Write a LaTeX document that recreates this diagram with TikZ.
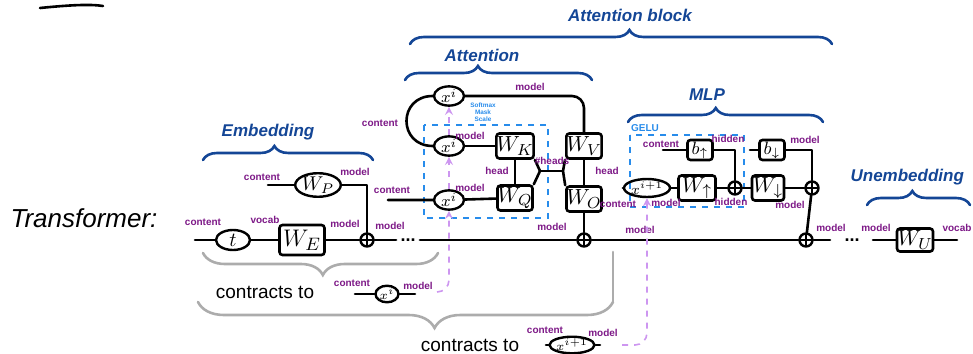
\documentclass[tikz,border=0pt]{standalone}
\usepackage{fontspec}
\setmainfont{Liberation Sans}
\usetikzlibrary{positioning, arrows, shapes.geometric, decorations.pathreplacing}
\definecolor{lblpurple}{RGB}{125,25,135}
\definecolor{ttlblue}{RGB}{20,70,150}
\definecolor{dashblue}{RGB}{40,140,235}
\definecolor{xpink}{RGB}{205,150,240}
\tikzset{
    x=0.5pt, y=-0.5pt, % one unit is one pixel of the sketch, y grows downwards
    >=stealth,
    wire/.style={line width=1.3pt, line cap=round, line join=round}, % the black lines between the blocks
    mat/.style={draw, line width=1.3pt, rounded corners=1.5pt, inner sep=0pt, minimum width=17.5pt, minimum height=12.5pt, font=\fontsize{11}{11}\selectfont}, % weight matrices
    bias/.style={mat, minimum width=12.5pt, minimum height=10pt, font=\fontsize{9}{9}\selectfont},
    vec/.style={draw, ellipse, line width=1.2pt, inner sep=0pt, minimum width=15pt, minimum height=9pt, font=\fontsize{8}{8}\selectfont}, % vectors like x^i
    addop/.style={draw, circle, line width=1.2pt, inner sep=0pt, minimum size=6.5pt,
        path picture={\draw[line width=0.8pt] (path picture bounding box.north) -- (path picture bounding box.south)
                                              (path picture bounding box.west) -- (path picture bounding box.east);}},
    lbl/.style={text=lblpurple, font=\fontsize{5}{6}\selectfont\bfseries, inner sep=0pt}, % dimension labels
    ttl/.style={text=ttlblue, font=\fontsize{8.5}{9}\selectfont\bfseries\itshape},
    note/.style={text=dashblue, font=\fontsize{5}{6}\selectfont\bfseries, inner sep=0pt},
    big/.style={font=\fontsize{9.5}{10}\selectfont, inner sep=0pt},
    dotsnode/.style={font=\fontsize{9}{9}\selectfont\bfseries, inner ysep=0pt, inner xsep=2pt},
    group/.style={draw=dashblue, dashed, line width=0.9pt},
    bbrace/.style={decorate, decoration={brace, amplitude=7pt, aspect=#1}, line width=1.3pt, draw=ttlblue, line cap=round},
    bbrace/.default=0.5,
    gbrace/.style={decorate, decoration={brace, amplitude=11pt, aspect=#1}, line width=1.3pt, draw=gray!65, line cap=round},
    gbrace/.default=0.5,
    pinkarrow/.style={draw=xpink, dashed, line width=0.8pt, ->},
    }

\begin{document}
\begin{tikzpicture}
    \useasboundingbox (0,0) rectangle (973,353);

    \draw[wire] (40,8) .. controls (70,5) and (90,4) .. (103,6);
    \node[font=\fontsize{13}{13}\selectfont\itshape] (TRANS) at (84,218) {Transformer:};

    % embedding
    \node[ttl] (EMBTTL) at (268,132) {Embedding};
    \draw[bbrace=0.42] (203,160) -- (373,160);
    \node[vec, minimum width=22.5pt, minimum height=11pt, font=\fontsize{10}{10}\selectfont] (WP) at (318,185) {$W_P$};
    \node[vec, minimum width=17pt, minimum height=10pt, font=\fontsize{10}{10}\selectfont] (TOK) at (233,240) {$t$};
    \node[mat, minimum width=22.5pt, minimum height=15pt, font=\fontsize{13}{13}\selectfont] (WE) at (302,240) {$W_E$};
    \node[addop] (ADDE) at (367,240) {};
    \node[dotsnode] (DOTS1) at (408,240) {...};
    \coordinate (INTOK) at (195,240);
    \coordinate (INPOS) at (268,185);

    \draw[wire] (INTOK) -- (TOK) -- (WE) -- (ADDE) -- (DOTS1.west);
    \draw[wire] (INPOS) -- (WP);
    \draw[wire] (WP.east) -| (ADDE.north);

    \node[lbl] (CONT1) at (203,222) {content};
    \node[lbl] (VOC1) at (265,220) {vocab};
    \node[lbl] (MOD1) at (345,224) {model};
    \node[lbl] (CONT2) at (262,177) {content};
    \node[lbl] (MOD2) at (355,172) {model};
    \node[lbl] (MOD3) at (390,226) {model};

    % attention
    \node[ttl] (BLKTTL) at (630,15) {Attention block};
    \draw[bbrace=0.52] (410,44) -- (832,44);
    \node[ttl] (ATTTTL) at (482,55) {Attention};
    \draw[bbrace=0.39] (405,80) -- (592,80);

    \node[vec] (XTOP) at (449,96) {$x^i$};
    \node[vec] (XMID) at (449,146) {$x^i$};
    \node[vec] (XBOT) at (449,200) {$x^i$};
    \node[mat] (WK) at (515,146) {$W_K$};
    \node[mat] (WQ) at (515,198) {$W_Q$};
    \node[mat, minimum width=15pt] (WV) at (584,146) {$W_V$};
    \node[mat, minimum width=15pt] (WO) at (584,199) {$W_O$};
    \node[addop] (ADDA) at (584,240) {};
    \coordinate (INATT) at (388,200);
    \coordinate (HJL) at (540,171);
    \coordinate (HJR) at (563,171);

    \draw[group] (424,125) rectangle (548,218);
    \node[note, font=\fontsize{3.2}{3.6}\selectfont\bfseries, align=center] (SMX) at (483,112) {Softmax\\Mask\\Scale};

    \draw[wire] (INATT) -- (XBOT) -- (WQ);
    \draw[wire] (XMID) -- (WK);
    \draw[wire] (XTOP.west) to[out=180, in=180, looseness=1.8] (XMID.west);
    \draw[wire, rounded corners=6pt] (XTOP.east) -| (WV.north);
    \draw[wire] (WK) -- (WQ);
    \draw[wire] (WV) -- (WO);
    \draw[wire] (WK.south east) -- (HJL) -- (WQ.north east);
    \draw[wire] (HJL) -- (HJR);
    \draw[wire] (WV.south west) -- (HJR) -- (WO.north west);
    \draw[wire] (WO) -- (ADDA);
    \draw[wire] (DOTS1.east) -- (ADDA);

    \node[lbl] (CONT3) at (380,123) {content};
    \node[lbl] (CONT4) at (392,190) {content};
    \node[lbl] (MOD4) at (530,87) {model};
    \node[lbl] (MOD5) at (470,136) {model};
    \node[lbl] (MOD6) at (470,188) {model};
    \node[lbl] (HEAD1) at (497,171) {head};
    \node[lbl] (HEADS) at (552,161) {\#heads};
    \node[lbl] (HEAD2) at (607,171) {head};
    \node[lbl] (MOD7) at (552,227) {model};
    \node[lbl] (MOD8) at (640,230) {model};

    % mlp
    \node[ttl] (MLPTTL) at (707,95) {MLP};
    \draw[bbrace=0.45] (628,122) -- (823,122);
    \node[note] (GELU) at (645,128) {GELU};
    \draw[group] (630,135) rectangle (744,207);

    \node[vec, minimum width=16.5pt, minimum height=8.5pt, font=\fontsize{7}{7}\selectfont] (XNEXT) at (647,188) {$x^{i+1}$};
    \node[mat, minimum width=18.5pt] (WUP) at (697,188) {$W_\uparrow$};
    \node[bias] (BUP) at (700,150) {$b_\uparrow$};
    \node[addop] (ADDH) at (735,188) {};
    \node[mat, minimum width=16pt] (WDN) at (768,188) {$W_\downarrow$};
    \node[bias] (BDN) at (772,150) {$b_\downarrow$};
    \node[addop] (ADDM) at (812,188) {};
    \node[addop] (ADDB) at (806,240) {};
    \coordinate (INMLP) at (623,188);
    \coordinate (INBUP) at (663,150);
    \coordinate (INBDN) at (750,150);

    \draw[wire] (INMLP) -- (XNEXT) -- (WUP) -- (ADDH) -- (WDN) -- (ADDM);
    \draw[wire] (INBUP) -- (BUP);
    \draw[wire] (BUP.east) -| (ADDH.north);
    \draw[wire] (INBDN) -- (BDN);
    \draw[wire] (BDN.east) -| (ADDM.north);
    \draw[wire] (ADDM) -- (ADDB);
    \draw[wire] (ADDA) -- (ADDB);

    \node[lbl] (CONT5) at (661,144) {content};
    \node[lbl] (HID1) at (728,139) {hidden};
    \node[lbl] (MOD9) at (805,140) {model};
    \node[lbl] (CONT6) at (618,204) {content};
    \node[lbl] (MOD10) at (666,203) {model};
    \node[lbl] (HID2) at (731,202) {hidden};
    \node[lbl] (MOD11) at (790,205) {model};

    % unembedding
    \node[ttl, anchor=east] (UNETTL) at (971,177) {Unembedding};
    \draw[bbrace=0.44] (867,205) -- (970,205);
    \node[dotsnode] (DOTS2) at (852,240) {...};
    \node[mat, minimum width=18pt, minimum height=11.5pt] (WU) at (915,240) {$W_U$};
    \coordinate (BUSEND) at (830,240);
    \coordinate (BUSUN) at (873,240);
    \coordinate (OUTU) at (957,240);
    \draw[wire] (ADDB) -- (BUSEND);
    \draw[wire] (BUSUN) -- (WU) -- (OUTU);
    \node[lbl] (MOD12) at (831,228) {model};
    \node[lbl] (MOD13) at (876,228) {model};
    \node[lbl] (VOC2) at (957,228) {vocab};

    % contractions
    \draw[gbrace=0.49] (438,253) -- (203,253);
    \node[big] (CTR1) at (265,292) {contracts to};
    \node[vec, minimum width=11.5pt, minimum height=7.5pt, font=\fontsize{6}{6}\selectfont] (XC1) at (387,294) {$x^i$};
    \coordinate (C1IN) at (355,294);
    \coordinate (C1OUT) at (415,294);
    \draw[wire] (C1IN) -- (XC1) -- (C1OUT);
    \node[lbl] (CONT7) at (352,283) {content};
    \node[lbl] (MOD14) at (418,286) {model};
    \coordinate (PK1) at (437,292);
    \draw[pinkarrow, rounded corners=6pt] (PK1) -| (XBOT.south);
    \draw[pinkarrow] (XBOT.north) -- (XMID.south);
    \draw[pinkarrow] (XMID.north) -- (XTOP.south);

    \draw[gbrace=0.43, decoration={amplitude=13pt}] (613,302) -- (198,302);
    \draw[wire, draw=gray!65] (613,302) -- (613,252);
    \node[big] (CTR2) at (470,345) {contracts to};
    \node[vec, minimum width=16pt, minimum height=8pt, font=\fontsize{6}{6}\selectfont] (XC2) at (572,345) {$x^{i+1}$};
    \coordinate (C2IN) at (546,345);
    \coordinate (C2OUT) at (600,345);
    \draw[wire] (C2IN) -- (XC2) -- (C2OUT);
    \node[lbl] (CONT8) at (545,330) {content};
    \node[lbl] (MOD15) at (603,333) {model};
    \coordinate (PK2) at (622,345);
    \draw[pinkarrow, rounded corners=6pt] (PK2) -| (XNEXT.south);
\end{tikzpicture}
\end{document}
